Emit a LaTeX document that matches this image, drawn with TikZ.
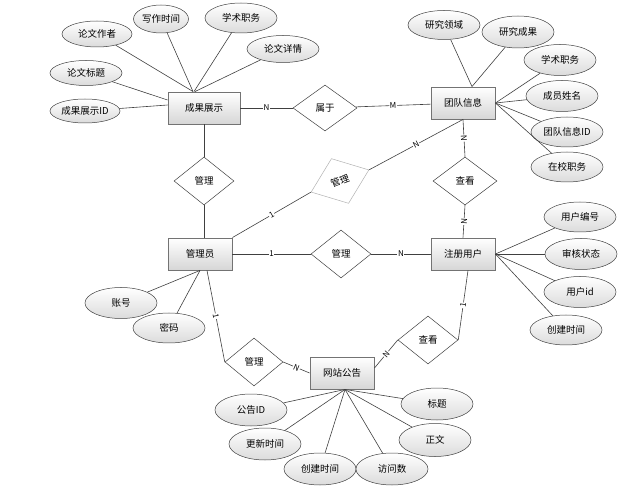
\documentclass[tikz,border=0pt]{standalone}
\usepackage{fontspec}
\setmainfont{Noto Sans CJK SC}
\usetikzlibrary{shapes.geometric}

\begin{document}
\begin{tikzpicture}[x=1pt,y=-1pt,
  entity/.style={draw=black!55,line width=0.9pt,top color=white,bottom color=black!16,minimum width=64pt,minimum height=32pt,inner sep=0pt,font=\fontsize{9.5}{11}\selectfont},
  attr/.style={ellipse,draw=black!75,line width=0.5pt,top color=white,bottom color=black!14,minimum width=72pt,minimum height=31pt,inner sep=0pt,font=\fontsize{9.5}{11}\selectfont},
  rel/.style={diamond,draw=black!75,line width=0.5pt,fill=white,minimum width=60pt,minimum height=48pt,inner sep=0pt,font=\fontsize{9.5}{11}\selectfont},
  link/.style={draw=black!75,line width=0.6pt},
  card/.style={fill=white,inner sep=0.6pt,font=\fontsize{8}{8}\selectfont,sloped}]
\useasboundingbox (0,0) rectangle (632,494);

\draw (204,108) node[entity,minimum width=72pt](cg) {成果展示};
\draw (97,34) node[attr,minimum width=70pt,minimum height=26pt](lwzz) {论文作者};
\draw (161,19) node[attr,minimum width=55pt,minimum height=28pt](xzsj) {写作时间};
\draw (241,18) node[attr,minimum height=30pt](xszw) {学术职务};
\draw (283,49) node[attr,minimum height=27pt](lwxq) {论文详情};
\draw (86,73) node[attr,minimum height=25pt](lwbt) {论文标题};
\draw (85,111) node[attr,minimum width=70pt,minimum height=24pt](cgid) {成果展示ID};

\draw (325,108) node[rel,minimum width=64pt,minimum height=46pt](sy) {属于};

\draw (463,103) node[entity](td) {团队信息};
\draw (444,25) node[attr,minimum height=29pt](yjly) {研究领域};
\draw (518,32) node[attr,minimum height=32pt](yjcg) {研究成果};
\draw (560,60) node[attr](tdzw) {学术职务};
\draw (562,96) node[attr](cyxm) {成员姓名};
\draw (567,132) node[attr,minimum height=30pt](tdid) {团队信息ID};
\draw (567,167) node[attr,minimum height=30pt](zxzw) {在校职务};

\draw (465,181) node[rel,minimum width=64pt](ck1) {查看};
\draw (204,181) node[rel](gl1) {管理};
\draw (340,181) node[rel,draw=black!30,rotate=21,minimum width=62pt](gl2) {管理};

\draw (200,254) node[entity](gly) {管理员};
\draw (341,254) node[rel](gl3) {管理};
\draw (463,254) node[entity](zc) {注册用户};
\draw (580,217) node[attr,minimum height=30pt](yhbh) {用户编号};
\draw (581,254) node[attr](shzt) {审核状态};
\draw (580,292) node[attr](yhid) {用户id};
\draw (566,330) node[attr,minimum height=30pt](zccj) {创建时间};
\draw (121,303) node[attr](zh) {账号};
\draw (169,328) node[attr,minimum height=30pt](mm) {密码};

\draw (428,340) node[rel](ck2) {查看};
\draw (254,362) node[rel,minimum width=58pt](gl4) {管理};
\draw (342,373) node[entity](wz) {网站公告};
\draw (251,410) node[attr,minimum height=32pt](ggid) {公告ID};
\draw (265,444) node[attr,minimum height=32pt](gxsj) {更新时间};
\draw (320,469) node[attr,minimum height=32pt](cjsj) {创建时间};
\draw (392,469) node[attr,minimum height=32pt](fws) {访问数};
\draw (435,440) node[attr,minimum height=33pt](zw) {正文};
\draw (437,404) node[attr,minimum height=32pt](bt) {标题};

\draw[link] (lwzz) to ([xshift=-11pt]cg.north);
\draw[link] (xzsj) to ([xshift=-11pt]cg.north);
\draw[link] (xszw) to ([xshift=-10pt]cg.north);
\draw[link] (lwxq) to ([xshift=-9pt]cg.north);
\draw[link] (lwbt) to ([yshift=8pt]cg.west);
\draw[link] (cgid) to ([yshift=3pt]cg.west);

\draw[link] (yjly) to ([xshift=9pt]td.north);
\draw[link] (yjcg) to ([xshift=9pt]td.north);
\draw[link] (tdzw) to (td.east);
\draw[link] (cyxm) to (td.east);
\draw[link] (tdid) to (td.east);
\draw[link] (zxzw) to (td.east);

\draw[link] (yhbh) to (zc.east);
\draw[link] (shzt) to (zc.east);
\draw[link] (yhid) to (zc.east);
\draw[link] (zccj) to (zc.east);

\draw[link] (zh) to (gly.south);
\draw[link] (mm) to (gly.south);

\draw[link] (ggid) to ([xshift=3pt]wz.south);
\draw[link] (gxsj) to ([xshift=3pt]wz.south);
\draw[link] (cjsj) to ([xshift=3pt]wz.south);
\draw[link] (fws) to ([xshift=3pt]wz.south);
\draw[link] (zw) to ([xshift=3pt]wz.south);
\draw[link] (bt) to ([xshift=3pt]wz.south);

\draw[link] (cg) to node[card]{N} (sy);
\draw[link] (sy) to node[card]{M} (td);
\draw[link] (cg) to (gl1);
\draw[link] (gl1.south) to (gl1.south |- gly.north);
\draw[link] (gly.north east) to node[card]{1} (gl2.west);
\draw[link] (gl2.east) to node[card]{N} (td.south);
\draw[link] (td.south) to node[card]{N} (ck1.north);
\draw[link] (ck1.south) to node[card]{N} (zc.north);
\draw[link] (gly) to node[card]{1} (gl3);
\draw[link] (gl3) to node[card]{N} (zc);
\draw[link] ([xshift=5pt]zc.south) to node[card]{1} (ck2.east);
\draw[link] (ck2.west) to node[card]{N} ([yshift=5pt]wz.east);
\draw[link] ([xshift=7pt]gly.south) to node[card]{1} (gl4.west);
\draw[link] (gl4.east) to node[card]{N} (wz.west);

\end{tikzpicture}
\end{document}
